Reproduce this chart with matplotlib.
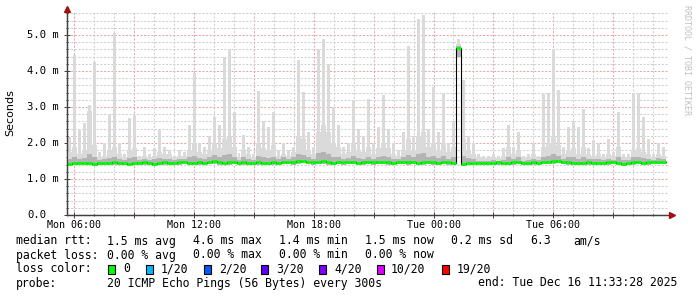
import numpy as np
import matplotlib
matplotlib.use("Agg")
import matplotlib.pyplot as plt
from matplotlib.ticker import MultipleLocator, FixedLocator

# smokeping data, 15 min bins starting Mon 05:37:30 (hours since Mon 00:00)
start_hour = 5.625
step_hours = 0.25

rtt_max = [
    2.17, 4.45, 2.35, 2.55, 3.05, 4.26, 1.75, 2.0, 2.8, 5.05,
    2.0, 1.7, 2.7, 2.75, 1.65, 1.9, 1.7, 1.85, 2.36, 1.88,
    1.8, 1.65, 1.8, 1.75, 2.5, 3.95, 2.0, 1.9, 2.2, 2.72,
    2.5, 4.4, 4.6, 2.85, 1.72, 2.22, 1.9, 1.7, 3.45, 2.6,
    2.45, 2.85, 1.8, 2.0, 1.8, 1.9, 4.3, 3.42, 2.3, 1.9,
    4.6, 4.9, 4.2, 3.0, 2.5, 1.88, 2.0, 3.2, 2.4, 2.2,
    3.22, 2.0, 2.45, 3.33, 2.4, 2.0, 1.8, 2.3, 4.7, 2.2,
    5.45, 5.55, 2.4, 3.55, 2.3, 3.4, 2.0, 2.6, 4.9, 3.75,
    2.2, 2.0, 1.7, 1.65, 1.65, 1.7, 1.65, 1.85, 2.5, 1.9,
    2.3, 1.65, 1.7, 2.0, 1.65, 3.35, 3.4, 4.58, 3.47, 1.9,
    2.45, 2.62, 2.45, 2.94, 1.85, 2.08, 2.0, 1.7, 2.1, 1.75,
    2.87, 1.7, 1.7, 3.4, 3.38, 2.73, 2.1, 1.7, 2.0, 1.9,
]
rtt_upper = [
    1.75, 1.9, 1.7, 1.8, 2.9, 1.95, 1.6, 1.65, 1.8, 1.9,
    1.7, 1.6, 1.8, 1.85, 1.6, 1.65, 1.6, 1.65, 1.75, 1.7,
    1.7, 1.6, 1.65, 1.65, 1.8, 2.0, 1.75, 1.7, 1.8, 2.0,
    1.85, 2.1, 2.2, 1.9, 1.6, 1.8, 1.7, 1.6, 2.0, 1.85,
    1.8, 1.95, 1.65, 1.7, 1.65, 1.75, 2.2, 2.1, 1.8, 1.7,
    2.3, 2.5, 2.3, 2.0, 1.9, 1.7, 1.75, 2.0, 1.8, 1.75,
    1.9, 1.7, 1.85, 2.0, 1.85, 1.7, 1.65, 1.8, 2.1, 1.8,
    2.2, 2.3, 1.9, 2.0, 1.8, 2.0, 1.75, 1.9, 4.75, 2.1,
    1.8, 1.7, 1.6, 1.58, 1.58, 1.6, 1.58, 1.65, 1.9, 1.7,
    1.8, 1.58, 1.6, 1.7, 1.6, 1.9, 2.0, 2.2, 1.95, 1.7,
    1.8, 1.85, 1.7, 1.9, 1.7, 1.65, 1.7, 1.6, 1.7, 1.65,
    1.9, 1.6, 1.6, 1.8, 1.85, 1.75, 1.7, 1.6, 1.7, 1.65,
]
rtt_inner = [
    1.55, 1.6, 1.55, 1.58, 1.7, 1.62, 1.52, 1.55, 1.58, 1.6,
    1.55, 1.52, 1.58, 1.6, 1.52, 1.55, 1.52, 1.55, 1.58, 1.56,
    1.56, 1.52, 1.55, 1.56, 1.6, 1.65, 1.58, 1.56, 1.6, 1.66,
    1.6, 1.68, 1.7, 1.62, 1.52, 1.6, 1.55, 1.52, 1.65, 1.6,
    1.58, 1.62, 1.55, 1.6, 1.56, 1.6, 1.7, 1.68, 1.6, 1.56,
    1.72, 1.75, 1.7, 1.62, 1.6, 1.55, 1.58, 1.65, 1.58, 1.56,
    1.62, 1.56, 1.6, 1.65, 1.6, 1.55, 1.55, 1.6, 1.68, 1.6,
    1.7, 1.72, 1.62, 1.65, 1.58, 1.65, 1.56, 1.6, 4.7, 1.65,
    1.58, 1.55, 1.5, 1.5, 1.5, 1.52, 1.5, 1.54, 1.62, 1.55,
    1.6, 1.5, 1.52, 1.56, 1.52, 1.62, 1.65, 1.7, 1.64, 1.56,
    1.6, 1.62, 1.56, 1.62, 1.56, 1.55, 1.56, 1.52, 1.56, 1.54,
    1.62, 1.52, 1.52, 1.6, 1.62, 1.58, 1.56, 1.52, 1.58, 1.55,
]
rtt_median = [
    1.43, 1.44, 1.44, 1.45, 1.44, 1.43, 1.44, 1.45, 1.45, 1.46,
    1.44, 1.45, 1.43, 1.44, 1.45, 1.46, 1.44, 1.43, 1.45, 1.46,
    1.45, 1.44, 1.46, 1.47, 1.45, 1.44, 1.46, 1.45, 1.47, 1.49,
    1.46, 1.45, 1.46, 1.47, 1.45, 1.46, 1.44, 1.45, 1.46, 1.45,
    1.44, 1.46, 1.45, 1.48, 1.47, 1.46, 1.49, 1.50, 1.48, 1.46,
    1.47, 1.49, 1.46, 1.45, 1.47, 1.46, 1.48, 1.47, 1.45, 1.46,
    1.47, 1.46, 1.48, 1.47, 1.46, 1.45, 1.47, 1.48, 1.46, 1.47,
    1.45, 1.46, 1.47, 1.46, 1.45, 1.47, 1.46, 1.45, 4.63, 1.43,
    1.44, 1.45, 1.44, 1.45, 1.44, 1.45, 1.46, 1.44, 1.45, 1.46,
    1.47, 1.45, 1.44, 1.46, 1.45, 1.47, 1.48, 1.49, 1.50, 1.47,
    1.46, 1.45, 1.44, 1.45, 1.46, 1.44, 1.45, 1.44, 1.46, 1.47,
    1.45, 1.43, 1.44, 1.46, 1.47, 1.45, 1.46, 1.47, 1.48, 1.47,
]
rtt_min = [
    1.38, 1.39, 1.38, 1.40, 1.38, 1.37, 1.39, 1.40, 1.39, 1.40,
    1.38, 1.39, 1.37, 1.38, 1.40, 1.40, 1.38, 1.37, 1.39, 1.40,
    1.40, 1.38, 1.40, 1.41, 1.39, 1.38, 1.40, 1.39, 1.41, 1.43,
    1.40, 1.39, 1.40, 1.41, 1.39, 1.40, 1.38, 1.39, 1.40, 1.39,
    1.38, 1.40, 1.39, 1.42, 1.41, 1.40, 1.43, 1.44, 1.42, 1.40,
    1.41, 1.43, 1.40, 1.39, 1.41, 1.40, 1.42, 1.41, 1.39, 1.40,
    1.41, 1.40, 1.42, 1.41, 1.40, 1.39, 1.41, 1.42, 1.40, 1.41,
    1.39, 1.40, 1.41, 1.40, 1.39, 1.41, 1.40, 1.39, 4.40, 1.37,
    1.38, 1.39, 1.38, 1.39, 1.38, 1.39, 1.40, 1.38, 1.39, 1.40,
    1.41, 1.39, 1.38, 1.40, 1.39, 1.41, 1.42, 1.43, 1.44, 1.41,
    1.40, 1.39, 1.38, 1.39, 1.40, 1.38, 1.39, 1.38, 1.40, 1.41,
    1.39, 1.37, 1.38, 1.40, 1.41, 1.39, 1.40, 1.41, 1.42, 1.41,
]

tick_hours = [6, 12, 18, 24, 30]
tick_labels = ["Mon 06:00", "Mon 12:00", "Mon 18:00", "Tue 00:00", "Tue 06:00"]
y_ticks = [0, 1, 2, 3, 4, 5]
y_labels = ["0.0", "1.0 m", "2.0 m", "3.0 m", "4.0 m", "5.0 m"]

loss_colors = ["#00ff00", "#00b8ff", "#0059ff", "#5e00ff", "#7e00ff", "#dd00ff", "#ff0000"]
loss_labels = ["0", "1/20", "2/20", "3/20", "4/20", "10/20", "19/20"]

W, H = 697, 297
MONO = "DejaVu Sans Mono"


def fx(px):
    return px / W


def fy(py):
    return 1 - py / H


fig = plt.figure(figsize=(W / 100, H / 100), dpi=100)
fig.patch.set_facecolor("white")
ax = fig.add_axes([fx(67), fy(215), 601 / W, 203 / H])
ax.set_xlim(5.63, 35.75)
ax.set_ylim(0, 5.64)

n = len(rtt_max)
edges = start_hour + step_hours * np.arange(n + 1)
centers = edges[:-1] + step_hours / 2
rmin = np.array(rtt_min)


def ext(v):
    return np.append(v, v[-1])


# smoke: thin spikes to the max, continuous bands below
ax.bar(centers, np.array(rtt_max) - rmin, bottom=rmin, width=step_hours * 0.6,
       color="#dadada", lw=0, zorder=2)
ax.fill_between(edges, ext(rtt_min), ext(rtt_upper), step="post", color="#dadada", lw=0, zorder=3)
ax.fill_between(edges, ext(rtt_min), ext(rtt_inner), step="post", color="#b4b4b4", lw=0, zorder=4)

# median line: black steps underneath, green level segments on top
ax.step(edges, ext(rtt_median), where="post", color="black", lw=0.8, zorder=5)
ax.hlines(rtt_median, edges[:-1], edges[1:], color="#00ff00", lw=2.0, zorder=6)

# grid
ax.xaxis.set_major_locator(MultipleLocator(3))
ax.xaxis.set_minor_locator(MultipleLocator(1))
ax.yaxis.set_major_locator(FixedLocator(y_ticks))
ax.yaxis.set_minor_locator(MultipleLocator(0.2))
ax.grid(which="minor", color="#cfcfcf", lw=0.75, linestyle=(0, (2, 1.5)), zorder=0)
ax.grid(which="major", color="#e8a8a8", lw=0.75, linestyle=(0, (2, 1.5)), zorder=1)
ax.set_axisbelow(True)

ax.set_xticklabels([])
ax.set_yticklabels([])
ax.tick_params(which="both", direction="inout", color="#404040", width=0.7, labelsize=0)
ax.tick_params(which="major", length=4)
ax.tick_params(which="minor", length=2)

for s in ["top", "right"]:
    ax.spines[s].set_visible(False)
for s in ["left", "bottom"]:
    ax.spines[s].set_color("#404040")
    ax.spines[s].set_linewidth(0.9)

# axis extensions and arrows
tf = fig.transFigure
fig.lines.append(plt.Line2D([fx(67), fx(67)], [fy(215), fy(9)], color="#404040", lw=0.9, transform=tf))
fig.lines.append(plt.Line2D([fx(67), fx(671)], [fy(215), fy(215)], color="#404040", lw=0.9, transform=tf))
fig.lines.append(plt.Line2D([fx(67)], [fy(9)], marker="^", ms=4, color="#a01010", lw=0, transform=tf))
fig.lines.append(plt.Line2D([fx(672)], [fy(215)], marker=">", ms=4, color="#a01010", lw=0, transform=tf))

# tick labels
for h, lab in zip(tick_hours, tick_labels):
    xp = ax.transData.transform((h, 0))[0]
    fig.text(xp / W, fy(225), lab, family=MONO, fontsize=7.2, ha="center", va="center", color="black")
for v, lab in zip(y_ticks, y_labels):
    yp = ax.transData.transform((0, v))[1]
    fig.text(fx(27), yp / H, lab, family=MONO, fontsize=7.6, ha="left", va="center", color="black")

fig.text(fx(10), fy(113), "Seconds", fontsize=8, rotation=90, ha="center", va="center", color="black")
fig.text(fx(687), fy(5), "RRDTOOL / TOBI OETIKER", family=MONO, fontsize=6, rotation=270,
         ha="center", va="top", color="#c0c0c0")

# legend block
fs = 8.3
rows = [
    (241, [(16, "median rtt:"), (107, "1.5 ms avg"), (193, "4.6 ms max"), (279, "1.4 ms min"),
           (365, "1.5 ms now"), (451, "0.2 ms sd"), (530, "6.3"), (573, "am/s")]),
    (255, [(16, "packet loss:"), (107, "0.00 % avg"), (193, "0.00 % max"), (279, "0.00 % min"),
           (365, "0.00 % now")]),
    (269, [(16, "loss color:")]),
    (283, [(16, "probe:"), (107, "20 ICMP Echo Pings (56 Bytes) every 300s"),
           (478, "end: Tue Dec 16 11:33:28 2025")]),
]
for yp, items in rows:
    for xp, txt in items:
        fig.text(fx(xp), fy(yp), txt, family=MONO, fontsize=fs, ha="left", va="center", color="black")

box_x = [108, 146, 203.5, 261, 319, 377, 442]
lab_x = [123.5, 161, 219, 276, 334, 391, 457]
for bx, lx, c, lab in zip(box_x, lab_x, loss_colors, loss_labels):
    fig.patches.append(plt.Rectangle((fx(bx), fy(273.5)), 7 / W, 9 / H, transform=tf,
                                     facecolor=c, edgecolor="black", lw=0.8))
    fig.text(fx(lx), fy(269), lab, family=MONO, fontsize=fs, ha="left", va="center", color="black")

fig.savefig("out.png", dpi=100, facecolor="white")
